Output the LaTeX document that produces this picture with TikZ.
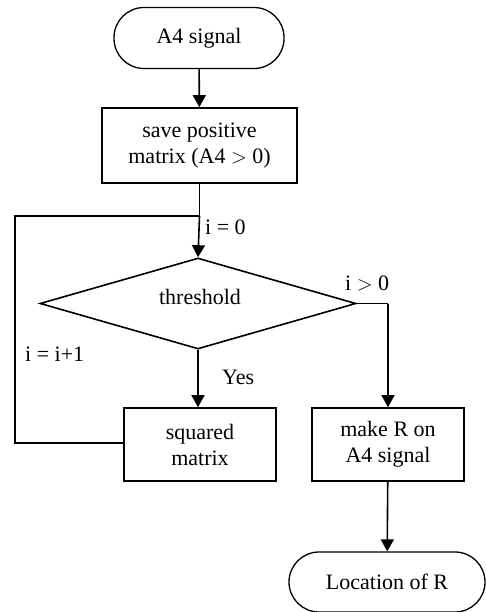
\documentclass[tikz,border=0pt]{standalone}
\usepackage{fontspec}
\setmainfont{Liberation Serif}
\usetikzlibrary{shapes.geometric,arrows.meta}
\begin{document}
\begin{tikzpicture}[x=1pt,y=-1pt,
  every node/.style={font=\fontsize{22}{26}\selectfont},
  line/.style={line width=1.6pt},
  arr/.style={line, -{Triangle[width=13pt,length=12pt]}},
  term/.style={draw, line width=1.3pt, rounded corners=30pt, minimum width=170pt, minimum height=61pt, inner sep=0pt},
  proc/.style={draw, line width=1.6pt, minimum width=152pt, minimum height=73pt, align=center, inner sep=0pt},
  dec/.style={draw, line width=1.6pt, diamond, minimum width=316pt, minimum height=91pt, inner sep=0pt},
  lbl/.style={inner sep=0pt}]
\useasboundingbox (0,0) rectangle (485,612);
\node[term] (start) at (199,38) {A4 signal};
\node[proc, minimum width=195pt, minimum height=75pt] (save) at (199.5,145.5) {save positive\\matrix (A4 $>$ 0)};
\node[dec] (thr) at (198,303.5) {};
\node (thrtxt) at (200,297) {threshold};
\node[proc] (sq) at (200,444.5) {squared\\matrix};
\node[proc] (mk) at (388,444.5) {make R on\\A4 signal};
\node[term, minimum width=196pt, minimum height=60pt] (end) at (387,582) {Location of R};
\coordinate (j) at (199.5,216);
\coordinate (lt) at (15,216);
\coordinate (lb) at (15,443);
\coordinate (rc) at (388,303.5);
\draw[arr] (start) -- (save);
\draw[line] (save) -- (j);
\draw[arr] (j) -- (thr.north);
\draw[line] (sq.west |- lb) -- (lb) -- (lt) -- (j);
\draw[arr] (thr.south) -- (thr.south |- sq.north);
\draw[line] (thr.east) -- (rc);
\draw[arr] (rc) -- (mk.north);
\draw[arr] (mk) -- (end);
\node[lbl, anchor=west] (l0) at (205,227) {i = 0};
\node[lbl, anchor=west] (lg) at (345,283) {i $>$ 0};
\node[lbl, anchor=west] (ly) at (222,377) {Yes};
\node[lbl, anchor=west] (li) at (25,354) {i = i+1};
\end{tikzpicture}
\end{document}
